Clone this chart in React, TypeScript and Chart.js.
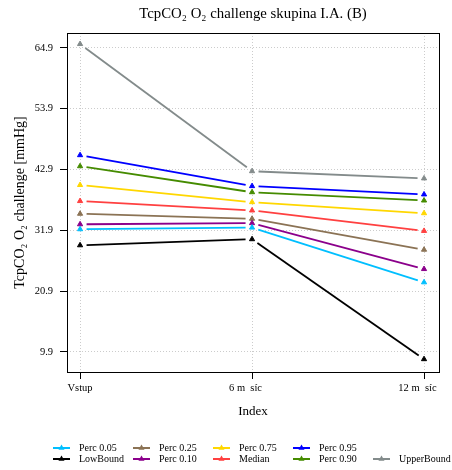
import React, { useEffect, useRef } from "react";
import { Chart, registerables } from "chart.js";

Chart.register(...registerables);

// ---------- data ----------
const categories = ["Vstup", "6 m  síc", "12 m  síc"];
const lowBound = [29.2, 30.3, 8.6];
const perc05 = [32.1, 32.4, 22.5];
const perc10 = [33.0, 33.2, 24.9];
const perc25 = [34.9, 34.0, 28.4];
const median = [37.2, 35.5, 31.8];
const perc75 = [40.1, 37.0, 35.0];
const perc90 = [43.5, 38.8, 37.3];
const perc95 = [45.5, 39.9, 38.4];
const upperBound = [65.6, 42.6, 41.3];
const yTicks = [9.9, 20.9, 31.9, 42.9, 53.9, 64.9];

const seriesNames = ["LowBound", "Perc 0.05", "Perc 0.10", "Perc 0.25", "Median", "Perc 0.75", "Perc 0.90", "Perc 0.95", "UpperBound"];
const seriesValues = [lowBound, perc05, perc10, perc25, median, perc75, perc90, perc95, upperBound];
const seriesColors = ["#000000", "#00BFFF", "#8B008B", "#8B7355", "#FF4040", "#FFD700", "#458B00", "#0000FF", "#838B8B"];
// legend grid: columns of [row1, row2]
const legendColumns: (string | null)[][] = [
  ["Perc 0.05", "LowBound"],
  ["Perc 0.25", "Perc 0.10"],
  ["Perc 0.75", "Median"],
  ["Perc 0.95", "Perc 0.90"],
  [null, "UpperBound"],
];

const chartTitle = "TcpCO₂ O₂ challenge skupina I.A. (B)";
const yTitle = "TcpCO₂ O₂ challenge [mmHg]";
const xTitle = "Index";

const FONT = '"Liberation Serif", "Times New Roman", serif';

const decorPlugin = {
  id: "decor",
  afterDraw(chart: any) {
    const { ctx, chartArea: a } = chart;
    ctx.save();
    // frame
    ctx.strokeStyle = "#000";
    ctx.lineWidth = 1;
    ctx.setLineDash([]);
    ctx.strokeRect(Math.round(a.left) + 0.5, Math.round(a.top) + 0.5, Math.round(a.right - a.left), Math.round(a.bottom - a.top));
    // title
    ctx.fillStyle = "#000";
    ctx.font = `14.8px ${FONT}`;
    ctx.textAlign = "center";
    ctx.textBaseline = "middle";
    ctx.fillText(chartTitle, (a.left + a.right) / 2, 14);
    // legend
    ctx.font = `10px ${FONT}`;
    ctx.textAlign = "left";
    legendColumns.forEach((col, ci) => {
      col.forEach((name, ri) => {
        if (!name) return;
        const di = seriesNames.indexOf(name);
        const color = seriesColors[di];
        const x0 = 53 + ci * 80;
        const y = 448 + ri * 11;
        ctx.strokeStyle = color;
        ctx.fillStyle = color;
        ctx.lineWidth = 2;
        ctx.beginPath();
        ctx.moveTo(x0, y);
        ctx.lineTo(x0 + 17, y);
        ctx.stroke();
        const cx = x0 + 8.5;
        const r = 3.5;
        ctx.beginPath();
        ctx.moveTo(cx, y - r);
        ctx.lineTo(cx + r * 0.866, y + r * 0.5);
        ctx.lineTo(cx - r * 0.866, y + r * 0.5);
        ctx.closePath();
        ctx.fill();
        ctx.fillStyle = "#000";
        ctx.fillText(name, x0 + 26, y + 0.5);
      });
    });
    ctx.restore();
  },
};

export default function App() {
  const ref = useRef<HTMLCanvasElement | null>(null);
  useEffect(() => {
    if (!ref.current) return;
    const gap = 6.5;
    const datasets = seriesNames.map((name, i) => ({
      label: name,
      data: seriesValues[i].map((v, j) => ({ x: j, y: v })),
      borderColor: seriesColors[i],
      backgroundColor: seriesColors[i],
      borderWidth: 1.8,
      pointStyle: "triangle",
      pointRadius: 3,
      pointBorderWidth: 1,
      pointBorderColor: seriesColors[i],
      pointBackgroundColor: seriesColors[i],
      fill: false,
      tension: 0,
      segment: {
        borderDash: (c: any) => {
          const len = Math.hypot(c.p1.x - c.p0.x, c.p1.y - c.p0.y);
          return [0, gap, Math.max(len - 2 * gap, 0), len + 20];
        },
      },
    }));
    const chart = new Chart(ref.current, {
      type: "line",
      data: { datasets },
      plugins: [decorPlugin],
      options: {
        animation: false,
        responsive: false,
        layout: { padding: { top: 33, right: 13, bottom: 0, left: 0 }, autoPadding: false },
        plugins: { legend: { display: false }, tooltip: { enabled: false }, title: { display: false } },
        scales: {
          x: {
            type: "linear",
            min: -0.076,
            max: 2.087,
            afterBuildTicks: (s: any) => {
              s.ticks = categories.map((_, i) => ({ value: i }));
            },
            afterFit: (s: any) => {
              s.height = 98;
              s.paddingLeft = 0;
              s.paddingRight = 0;
            },
            ticks: {
              autoSkip: false,
              maxRotation: 0,
              padding: 3,
              color: "#000",
              font: { family: FONT, size: 10.5 },
              callback: (v: any) => categories[v] + (v > 0 ? "     " : ""),
            },
            grid: {
              color: "#cccccc",
              lineWidth: 1,
              drawTicks: true,
              tickLength: 7,
              tickColor: "#000",
              tickWidth: 1,
              tickBorderDash: [],
            },
            border: { display: false, dash: [1, 2] },
            title: {
              display: true,
              text: xTitle,
              color: "#000",
              font: { family: FONT, size: 13 },
              padding: { top: 0, bottom: 51 },
            },
          },
          y: {
            type: "linear",
            min: 6.28,
            max: 67.6,
            afterBuildTicks: (s: any) => {
              s.ticks = yTicks.map((v) => ({ value: v }));
            },
            afterFit: (s: any) => {
              s.width = 67;
            },
            ticks: {
              padding: 7,
              color: "#000",
              font: { family: FONT, size: 10.5 },
              callback: (v: any) => Number(v).toFixed(1),
            },
            grid: {
              color: "#cccccc",
              lineWidth: 1,
              drawTicks: true,
              tickLength: 7,
              tickColor: "#000",
              tickWidth: 1,
              tickBorderDash: [],
            },
            border: { display: false, dash: [1, 2] },
            title: {
              display: true,
              text: yTitle,
              color: "#000",
              font: { family: FONT, size: 14 },
              padding: { top: 12, bottom: 0 },
            },
          },
        },
      } as any,
    });
    return () => chart.destroy();
  }, []);
  return (
    <div style={{ position: "fixed", left: 0, top: 0, width: 452, height: 470, background: "#fff" }}>
      <canvas ref={ref} width={452} height={470} style={{ display: "block" }} />
    </div>
  );
}
